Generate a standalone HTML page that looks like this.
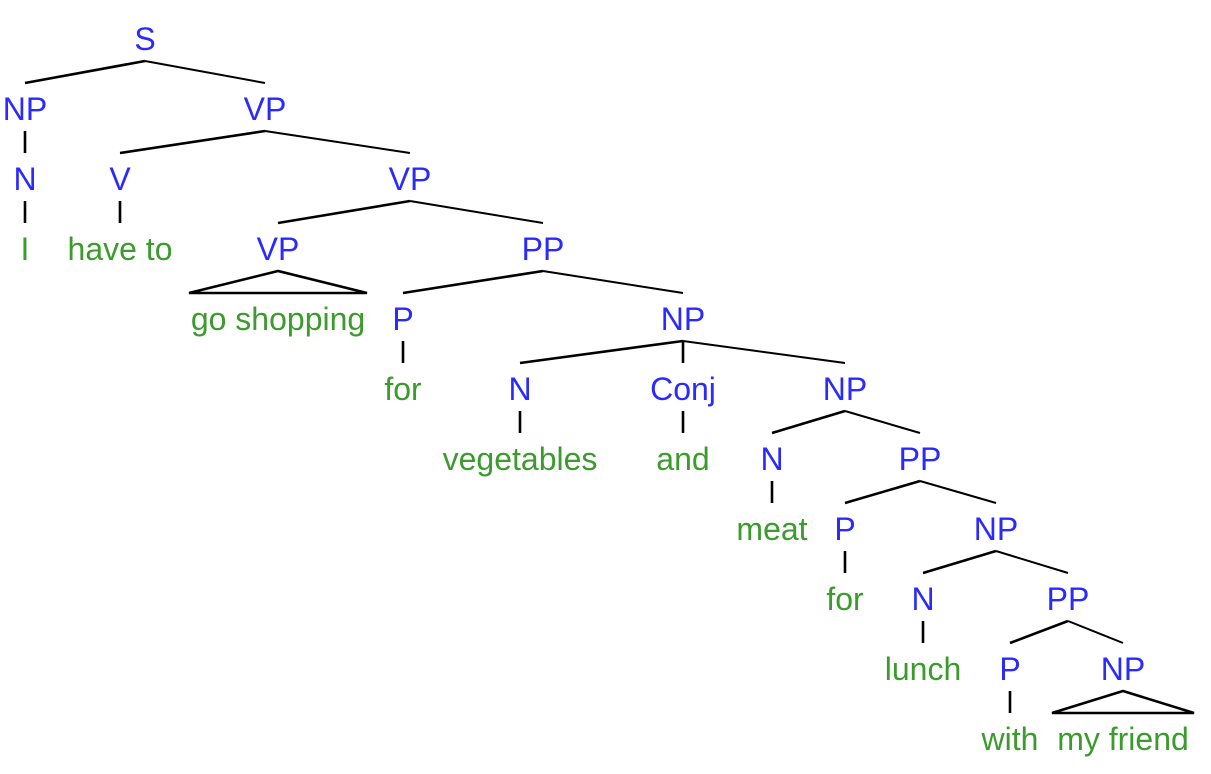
<!DOCTYPE html>
<html><head><meta charset="utf-8"><style>
html,body{margin:0;padding:0;background:#fff;}
svg{display:block;}
text{font-family:"Liberation Sans",Arial,sans-serif;font-size:32px;text-anchor:middle;}
.c{fill:#2a2aff;} .w{fill:#3c9b2d;}
line,polygon{stroke:#000;stroke-width:2.6;fill:none;}
line.r{stroke-width:2;}
</style></head><body>
<svg id="tree" width="1211" height="774" viewBox="0 0 1211 774"></svg>
<script>
const nodeIds = ['S','NP1','VP1','N1','I','V','VP2','haveto','VP3','PP1','goshop','P1','NP2','for1','N2','Conj','NP3','veg','and','N3','PP2','meat','P2','NP4','for2','N4','PP3','lunch','P3','NP5','with','myfriend'];
const labels = ['S','NP','VP','N','I','V','VP','have to','VP','PP','go shopping','P','NP','for','N','Conj','NP','vegetables','and','N','PP','meat','P','NP','for','N','PP','lunch','P','NP','with','my friend'];
const rows = [0,1,1,2,3,2,2,3,3,3,4,4,4,5,5,5,5,6,6,6,6,7,7,7,8,8,8,9,9,9,10,10];
const xs = [145,25,265,25,25,120,410,120,278,543,278,403,683,403,520,683,845,520,683,772,920,772,845,996,845,923,1068,923,1010,1123,1010,1123];
const parents = [null,'S','S','NP1','N1','VP1','VP1','V','VP2','VP2','VP3','PP1','PP1','P1','NP2','NP2','NP2','N2','Conj','NP3','NP3','N3','PP2','PP2','P2','NP4','NP4','N4','PP3','PP3','P3','NP5'];
const words = [0,0,0,0,1,0,0,1,0,0,1,0,0,1,0,0,0,1,1,0,0,1,0,0,1,0,0,1,0,0,1,1];
const triangles = {goshop:89, myfriend:71};
const svg = document.getElementById('tree');
const NS = 'http://www.w3.org/2000/svg';
const base = r => 49 + 70*r;
const idx = {}; nodeIds.forEach((id,i)=>idx[id]=i);
nodeIds.forEach((id,i)=>{
  const t = document.createElementNS(NS,'text');
  t.setAttribute('x', xs[i]); t.setAttribute('y', base(rows[i])+1);
  t.setAttribute('class', words[i]?'w':'c');
  
  
  t.textContent = labels[i];
  svg.appendChild(t);
  const p = parents[i];
  if (p===null) return;
  const pi = idx[p];
  const y1 = base(rows[pi])+12, y2 = base(rows[i])-36;
  if (triangles[id]) {
    const hw = triangles[id];
    const g = document.createElementNS(NS,'polygon');
    g.setAttribute('points', `${xs[pi]},${y1} ${xs[i]-hw},${y2} ${xs[i]+hw},${y2}`);
    
    
    svg.appendChild(g);
  } else {
    const l = document.createElementNS(NS,'line');
    l.setAttribute('x1', xs[pi]); l.setAttribute('y1', y1);
    l.setAttribute('x2', xs[i]); l.setAttribute('y2', y2);
    if (xs[i] > xs[pi]) l.setAttribute('class','r');
    
    
    svg.appendChild(l);
  }
});
</script>
</body></html>
